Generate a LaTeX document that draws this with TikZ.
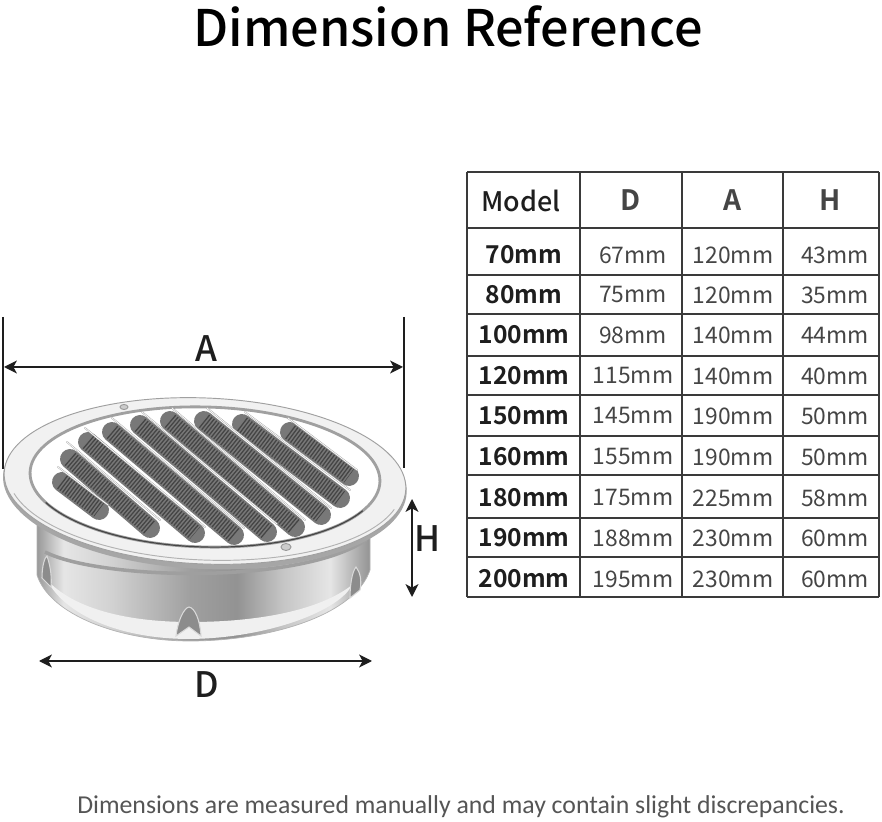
\documentclass[tikz,border=0pt]{standalone}
\usepackage{fontspec}
\setmainfont{Noto Sans CJK SC}[BoldFont={Noto Sans CJK SC Bold}]
\newfontfamily\mediumfont{Noto Sans CJK SC Medium}
\newfontfamily\notefont{Carlito}
\usetikzlibrary{arrows.meta}
\definecolor{inkdark}{HTML}{1E1E1E}
\definecolor{gridline}{HTML}{3A3A3A}
\definecolor{notegray}{HTML}{555555}
\definecolor{meshgray}{HTML}{787878}
\definecolor{meshdark}{HTML}{454545}
\definecolor{ringgray}{HTML}{A0A0A0}
\definecolor{flangegray}{HTML}{F1F1F1}
\pgfdeclarehorizontalshading{steelbody}{100bp}{
  color(0bp)=(gray!90); color(25bp)=(gray!80); color(29bp)=(gray!20); color(36bp)=(gray!35);
  color(48bp)=(gray!75); color(55bp)=(gray!85); color(62bp)=(gray!45); color(69bp)=(gray!20);
  color(75bp)=(gray!85); color(100bp)=(gray!85)}
\tikzset{
  titletext/.style={font=\mediumfont\fontsize{43}{50}\selectfont,text=black,inner sep=0pt},
  headtext/.style={font=\mediumfont\fontsize{23}{26}\selectfont,text=inkdark,inner sep=0pt},
  headbold/.style={font=\fontsize{24}{28}\selectfont\bfseries,text=meshdark,inner sep=0pt},
  modeltext/.style={font=\fontsize{21}{24}\selectfont\bfseries,text=inkdark,inner sep=0pt},
  celltext/.style={font=\fontsize{19.5}{22}\selectfont,text=meshdark,inner sep=0pt},
  dimtext/.style={font=\mediumfont\fontsize{30}{32}\selectfont,text=inkdark,inner sep=0pt},
  notetext/.style={font=\notefont\fontsize{22}{26}\selectfont,text=notegray,inner sep=0pt},
  dimline/.style={draw=inkdark,line width=1.2pt,{Stealth[length=11pt,width=11pt,inset=3pt]}-{Stealth[length=11pt,width=11pt,inset=3pt]}},
  extline/.style={draw=inkdark,line width=1.1pt},
  gridrule/.style={draw=gridline,line width=1.2pt},
  slat/.style={draw=meshgray,line width=17pt,line cap=round,
    postaction={draw=meshdark,line width=14pt,line cap=butt,dash pattern=on 1.1pt off 1.5pt}},
  lip/.style={draw=gray!70,line width=1.4pt,line cap=round,
    postaction={draw=white,line width=.6pt}},
  clip mark/.style={fill=gray!90,draw=gray!30,line width=.9pt}
}
\begin{document}
\begin{tikzpicture}[x=0.03cm,y=0.03cm]
\useasboundingbox (0,0) rectangle (882,-822);
\node [titletext] (title) at (448,-26) {Dimension Reference};
% body of the vent
\path [shading=steelbody,draw=gray!60,line width=.6pt] (37,-520) -- (37,-575) .. controls (50,-615) and (120,-641) .. (190,-641) .. controls (270,-641) and (355,-615) .. (370,-570) -- (370,-520) -- cycle;
\fill [gray!12] (47,-580) .. controls (75,-610) and (130,-622) .. (190,-622) .. controls (260,-622) and (320,-610) .. (352,-585) .. controls (340,-610) and (270,-638) .. (190,-639) .. controls (120,-639) and (65,-615) .. (47,-580) -- cycle;
\draw [draw=gray!75,line width=3pt] (45,-552) .. controls (100,-580) and (300,-585) .. (366,-540);
% clips
\path [clip mark] (176,-636) .. controls (178,-620) and (184,-608) .. (189,-607) .. controls (195,-608) and (200,-620) .. (201,-636) -- (189,-627) -- cycle;
\path [clip mark] (42,-578) .. controls (42,-565) and (45,-557) .. (47,-556) .. controls (50,-565) and (52,-575) .. (51,-587) -- cycle;
\path [clip mark] (350,-598) .. controls (350,-585) and (352,-572) .. (356,-567) .. controls (360,-572) and (362,-580) .. (360,-590) -- cycle;
% flange and inner ring
\fill [gray!70,rotate around={-2.4:(205,-481)}] (205,-484) ellipse (202 and 85);
\draw [draw=ringgray,fill=flangegray,line width=.8pt,rotate around={-2.4:(205,-481)}] (205,-481) ellipse (201 and 83);
\draw [draw=gray!60,line width=.8pt,rotate around={-2.4:(205,-481)}] (205,-481) ++(195:197 and 79) arc (195:345:197 and 79);
\draw [draw=ringgray,fill=white,line width=2.4pt,rotate around={-1.5:(205,-477)}] (205,-477) ellipse (175 and 70);
\draw [draw=meshdark,line width=1pt,rotate around={-1.5:(205,-477)}] (205,-477) ++(205:175 and 70) arc (205:335:175 and 70);
% slats from left to right
\draw [slat] (62,-482) -- (99,-510);
\draw [slat] (70,-459) -- (150,-528);
\draw [slat] (88,-442) -- (195,-533);
\draw [slat] (112,-432) -- (234,-535);
\draw [slat] (140,-425) -- (267,-532);
\draw [slat] (170,-421) -- (295,-527);
\draw [slat] (204,-421) -- (321,-515);
\draw [slat] (242,-424) -- (340,-498);
\draw [slat] (290,-432) -- (349,-476);
% lips of the slats
\draw [lip] (58,-467) -- (108,-505);
\draw [lip] (67,-442) -- (160,-520);
\draw [lip] (85,-428) -- (205,-527);
\draw [lip] (112,-418) -- (244,-528);
\draw [lip] (142,-412) -- (277,-524);
\draw [lip] (172,-408) -- (305,-520);
\draw [lip] (207,-408) -- (331,-508);
\draw [lip] (245,-412) -- (350,-490);
\draw [lip] (288,-418) -- (357,-470);
% screws
\draw [draw=gray!80,fill=gray!40,line width=.8pt] (124,-407) ellipse (4 and 2.5);
\draw [draw=gray!80,fill=gray!40,line width=.8pt] (286,-547) ellipse (5 and 3.5);
% dimension A
\coordinate (aleft) at (4,-367);
\coordinate (aright) at (403,-367);
\coordinate (aexttopl) at (3,-317);
\coordinate (aextbotl) at (3,-469);
\coordinate (aexttopr) at (404,-317);
\coordinate (aextbotr) at (404,-468);
\draw [extline] (aexttopl) -- (aextbotl);
\draw [extline] (aexttopr) -- (aextbotr);
\draw [dimline] (aleft) -- (aright);
\node [dimtext] (alabel) at (206,-349) {A};
% dimension D
\coordinate (dleft) at (39,-661);
\coordinate (dright) at (372,-661);
\draw [dimline] (dleft) -- (dright);
\node [dimtext] (dlabel) at (207,-685) {D};
% dimension H
\coordinate (htop) at (412,-499);
\coordinate (hbot) at (412,-597);
\draw [dimline] (htop) -- (hbot);
\node [dimtext] (hlabel) at (428,-539) {H};
% table rules
\draw [gridrule,line width=1.7pt] (467,-172) -- (879,-172);
\draw [gridrule] (467,-228) -- (879,-228);
\draw [gridrule] (467,-275) -- (879,-275);
\draw [gridrule] (467,-314) -- (879,-314);
\draw [gridrule] (467,-356) -- (879,-356);
\draw [gridrule] (467,-395) -- (879,-395);
\draw [gridrule] (467,-436) -- (879,-436);
\draw [gridrule] (467,-475) -- (879,-475);
\draw [gridrule] (467,-518) -- (879,-518);
\draw [gridrule] (467,-557) -- (879,-557);
\draw [gridrule] (467,-597) -- (879,-597);
\draw [gridrule] (467,-172) -- (467,-597);
\draw [gridrule] (580,-172) -- (580,-597);
\draw [gridrule] (682,-172) -- (682,-597);
\draw [gridrule] (783,-172) -- (783,-597);
\draw [gridrule] (879,-172) -- (879,-597);
% table head
\node [headtext] (hmodel) at (521,-201) {Model};
\node [headbold] (hd) at (631,-200) {D};
\node [headbold] (ha) at (733,-200) {A};
\node [headbold] (hh) at (830,-200) {H};
% table rows
\node [modeltext] (m70) at (524,-255) {70mm}; \node [celltext] (d70) at (633,-255) {67mm}; \node [celltext] (a70) at (733,-255) {120mm}; \node [celltext] (h70) at (835,-255) {43mm};
\node [modeltext] (m80) at (524,-295) {80mm}; \node [celltext] (d80) at (633,-295) {75mm}; \node [celltext] (a80) at (733,-295) {120mm}; \node [celltext] (h80) at (835,-295) {35mm};
\node [modeltext] (m100) at (524,-335) {100mm}; \node [celltext] (d100) at (633,-335) {98mm}; \node [celltext] (a100) at (733,-335) {140mm}; \node [celltext] (h100) at (835,-335) {44mm};
\node [modeltext] (m120) at (524,-376) {120mm}; \node [celltext] (d120) at (633,-376) {115mm}; \node [celltext] (a120) at (733,-376) {140mm}; \node [celltext] (h120) at (835,-376) {40mm};
\node [modeltext] (m150) at (524,-416) {150mm}; \node [celltext] (d150) at (633,-416) {145mm}; \node [celltext] (a150) at (733,-416) {190mm}; \node [celltext] (h150) at (835,-416) {50mm};
\node [modeltext] (m160) at (524,-457) {160mm}; \node [celltext] (d160) at (633,-457) {155mm}; \node [celltext] (a160) at (733,-457) {190mm}; \node [celltext] (h160) at (835,-457) {50mm};
\node [modeltext] (m180) at (524,-498) {180mm}; \node [celltext] (d180) at (633,-498) {175mm}; \node [celltext] (a180) at (733,-498) {225mm}; \node [celltext] (h180) at (835,-498) {58mm};
\node [modeltext] (m190) at (524,-538) {190mm}; \node [celltext] (d190) at (633,-538) {188mm}; \node [celltext] (a190) at (733,-538) {230mm}; \node [celltext] (h190) at (835,-538) {60mm};
\node [modeltext] (m200) at (524,-579) {200mm}; \node [celltext] (d200) at (633,-579) {195mm}; \node [celltext] (a200) at (733,-579) {230mm}; \node [celltext] (h200) at (835,-579) {60mm};
\node [notetext] (note) at (461,-807) {Dimensions are measured manually and may contain slight discrepancies.};
\end{tikzpicture}
\end{document}
